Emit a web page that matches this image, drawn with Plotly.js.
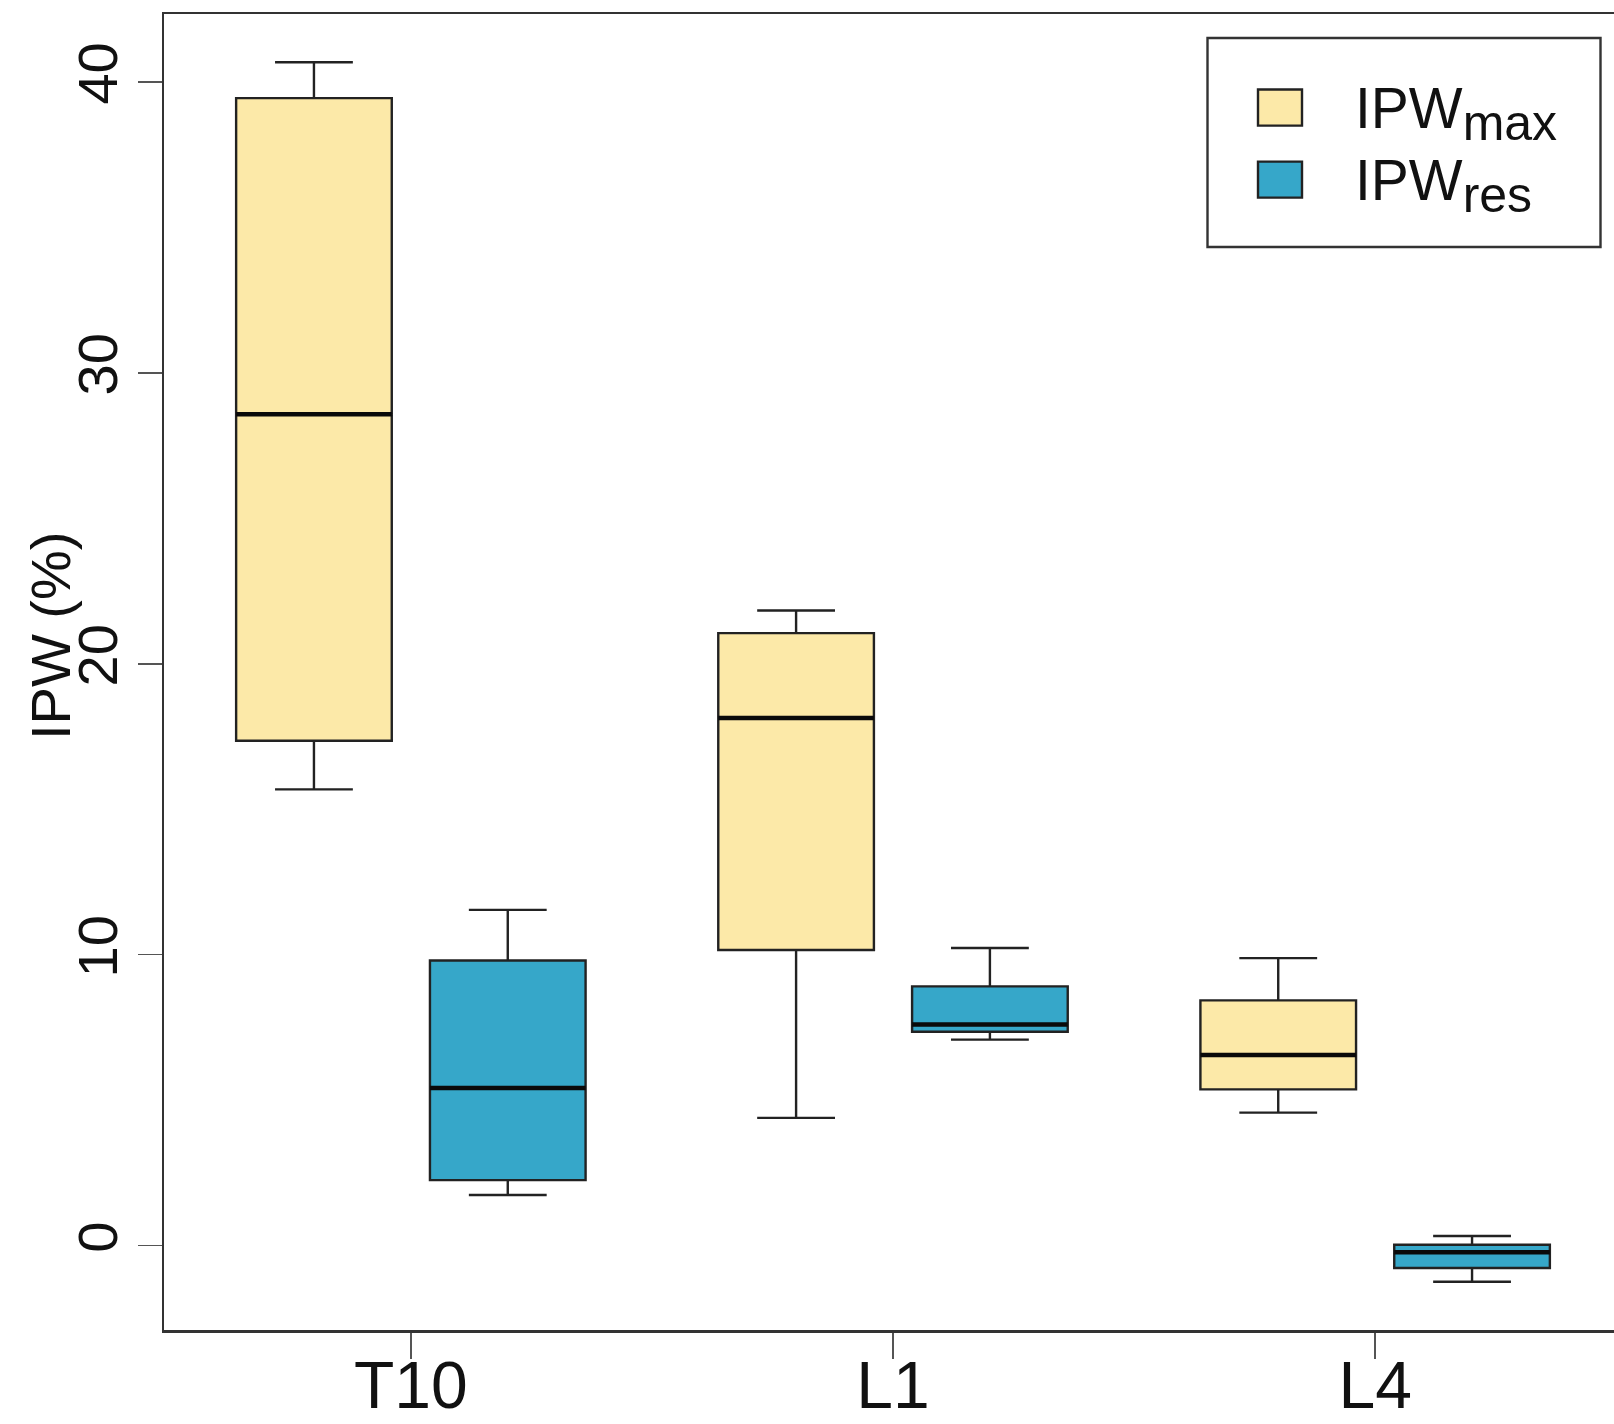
<!DOCTYPE html>
<html>
<head>
<meta charset="utf-8">
<script src="https://cdn.plot.ly/plotly-3.0.1.min.js"></script>
<style>
html, body { margin: 0; padding: 0; overflow: hidden; background: #ffffff; }
#chart { width: 1622px; height: 1424px; }
</style>
</head>
<body>
<div id="chart"></div>
<script>
// ---- data ----
var categories = ["T10", "L1", "L4"];
var seriesBase = ["IPW", "IPW"];
var seriesSubs = ["max", "res"];

var maxLower  = [15.68, 4.39, 4.57];
var maxQ1     = [17.35, 10.16, 5.37];
var maxMedian = [28.57, 18.13, 6.55];
var maxQ3     = [39.44, 21.05, 8.43];
var maxUpper  = [40.67, 21.83, 9.88];

var resLower  = [1.74, 7.08, -1.24];
var resQ1     = [2.25, 7.35, -0.77];
var resMedian = [5.42, 7.60, -0.23];
var resQ3     = [9.80, 8.91, 0.03];
var resUpper  = [11.54, 10.23, 0.33];

var yTicks = [0, 10, 20, 30, 40];
var yTitle = "IPW (%)";

// ---- styling ----
var FONT = "Liberation Sans, Arial, Helvetica, sans-serif";
var colMax = "#FCE9A8";
var colRes = "#36A7C9";
var edge = "#222222";

var W = 1622, H = 1424;
var M = { l: 164, r: 0, t: 14, b: 94 };
var PW = W - M.l - M.r, PH = H - M.t - M.b;
function px(x) { return (x - M.l) / PW; }
function py(y) { return (H - M.b - y) / PH; }

function seriesLabel(i) {
  return seriesBase[i] + '<sub><span style="font-size:50px">' + seriesSubs[i] + '</span></sub>';
}

function boxTrace(name, color, lo, q1, med, q3, up, grp) {
  return {
    type: "box", name: name, x: categories,
    lowerfence: lo, q1: q1, median: med, q3: q3, upperfence: up,
    boxpoints: false, fillcolor: color,
    line: { color: edge, width: 2.4 },
    whiskerwidth: 0.5, offsetgroup: grp, showlegend: false
  };
}
function medianTrace(name, med, grp) {
  return {
    type: "box", name: name + " median", x: categories,
    lowerfence: med, q1: med, median: med, q3: med, upperfence: med,
    boxpoints: false, fillcolor: "rgba(0,0,0,0)",
    line: { color: "#0a0a0a", width: 4.5 },
    whiskerwidth: 0, offsetgroup: grp, showlegend: false, hoverinfo: "skip"
  };
}

var data = [
  boxTrace("IPW max", colMax, maxLower, maxQ1, maxMedian, maxQ3, maxUpper, "a"),
  boxTrace("IPW res", colRes, resLower, resQ1, resMedian, resQ3, resUpper, "b"),
  medianTrace("IPW max", maxMedian, "a"),
  medianTrace("IPW res", resMedian, "b")
];

// legend drawn as shapes + annotations
var legendRows = [
  { idx: 0, color: colMax, y0: 89.5, y1: 125.6 },
  { idx: 1, color: colRes, y0: 161.6, y1: 197.6 }
];
var shapes = [{
  type: "rect", xref: "paper", yref: "paper",
  x0: px(1207.5), x1: px(1600.5), y0: py(247), y1: py(38),
  line: { color: "#333333", width: 2.4 }, fillcolor: "#ffffff"
}];
var annotations = [{
  xref: "paper", yref: "paper", x: px(50), y: py(636),
  text: yTitle, textangle: -90, showarrow: false,
  xanchor: "center", yanchor: "middle",
  font: { family: FONT, size: 56, color: "#111111" }
}];
legendRows.forEach(function (r) {
  shapes.push({
    type: "rect", xref: "paper", yref: "paper",
    x0: px(1258), x1: px(1302), y0: py(r.y1), y1: py(r.y0),
    line: { color: edge, width: 2.4 }, fillcolor: r.color
  });
  annotations.push({
    xref: "paper", yref: "paper", x: px(1353), y: py((r.y0 + r.y1) / 2 + 6),
    text: seriesLabel(r.idx), showarrow: false, xanchor: "left", yanchor: "middle",
    font: { family: FONT, size: 57, color: "#111111" }
  });
});

var layout = {
  width: W, height: H,
  margin: M,
  paper_bgcolor: "#ffffff", plot_bgcolor: "#ffffff",
  showlegend: false,
  boxmode: "group", boxgap: 0.196, boxgroupgap: 0.197,
  font: { family: FONT, color: "#111111" },
  xaxis: {
    type: "category", range: [-0.512, 2.512],
    showline: true, mirror: true, linecolor: "#333333", linewidth: 2.5,
    ticks: "outside", ticklen: 26, tickwidth: 1.6, tickcolor: "#555555",
    tickfont: { family: FONT, size: 66, color: "#111111" },
    ticklabelstandoff: -30,
    showgrid: false, zeroline: false, fixedrange: true
  },
  yaxis: {
    range: [-2.9, 42.33],
    tickvals: yTicks, ticktext: yTicks.map(String),
    tickangle: -90,
    showline: true, mirror: true, linecolor: "#333333", linewidth: 2.5,
    ticks: "outside", ticklen: 24, tickwidth: 1.6, tickcolor: "#555555",
    tickfont: { family: FONT, size: 56, color: "#111111" },
    ticklabelstandoff: -2,
    showgrid: false, zeroline: false, fixedrange: true
  },
  shapes: shapes,
  annotations: annotations
};

Plotly.newPlot("chart", data, layout, { staticPlot: true, displayModeBar: false });
</script>
</body>
</html>
